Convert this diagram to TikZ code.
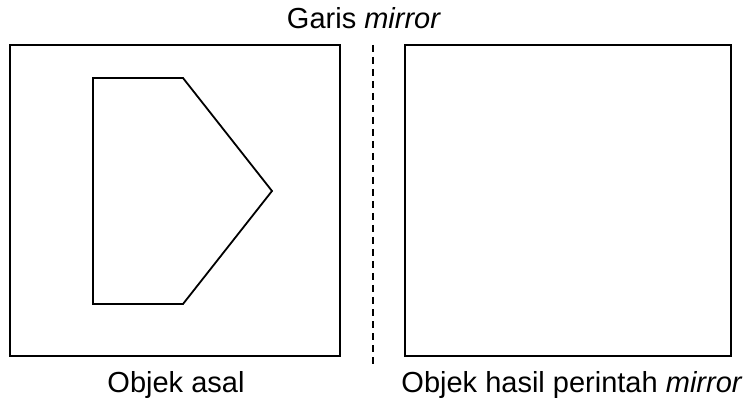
\documentclass[tikz,border=0pt]{standalone}
\usepackage{fontspec}
\setmainfont{Liberation Sans}
\begin{document}
\begin{tikzpicture}[x=1pt,y=-1pt,
  frame/.style={draw=black,line width=1.8pt},
  pentagon/.style={draw=black,line width=1.8pt,line join=miter},
  lbl/.style={font=\fontsize{29}{33}\selectfont,inner sep=0pt,anchor=base},
  mirrorline/.style={draw=black,line width=1.5pt,dash pattern=on 7pt off 5pt}]
\useasboundingbox (0,0) rectangle (750,398);
\draw[frame] (10,45) rectangle (340,356);
\draw[frame] (405,45) rectangle (731,356);
\coordinate (mt) at (373,45);
\coordinate (mb) at (373,366);
\draw[mirrorline] (mt) -- (mb);
\draw[pentagon] (93,78) -- (183,78) -- (272,191) -- (183,304) -- (93,304) -- cycle;
\node[lbl] (g) at (364,29) {Garis \textit{mirror}};
\node[lbl] (a) at (176,392) {Objek asal};
\node[lbl] (b) at (572,392) {Objek hasil perintah \textit{mirror}};
\end{tikzpicture}
\end{document}
